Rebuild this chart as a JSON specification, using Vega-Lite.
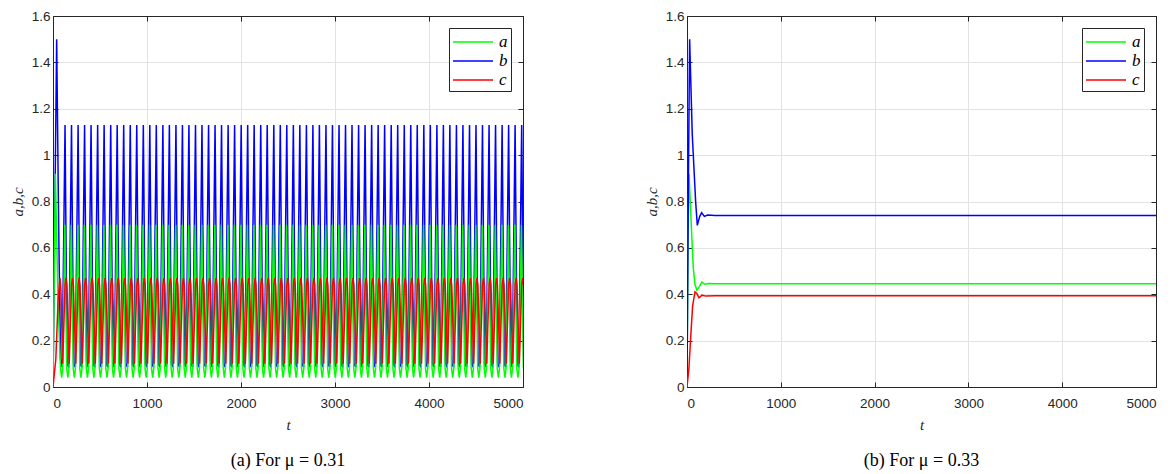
{
"$schema":"https://vega.github.io/schema/vega-lite/v6.json",
"padding":{"left":9,"top":8,"right":5,"bottom":0},
"config":{
"view":{"stroke":"#262626","strokeWidth":1},
"axis":{"domainColor":"#262626","tickColor":"#262626","tickSize":-5,"labelFont":"Liberation Sans","labelFontSize":13.5,"labelColor":"#262626","gridColor":"#e3e3e3","titleFont":"Liberation Serif","titleFontStyle":"italic","titleFontWeight":"normal","titleFontSize":15,"titleColor":"#262626"},
"legend":{"orient":"top-right","offset":12,"strokeColor":"#262626","fillColor":"white","padding":3,"symbolType":"M-1,0H3","symbolSize":400,"symbolStrokeWidth":1.5,"labelFont":"Liberation Serif","labelFontStyle":"italic","labelFontSize":17,"labelColor":"black","labelOffset":25,"rowPadding":0},
"title":{"font":"Liberation Serif","fontSize":18,"fontWeight":"normal","color":"black","orient":"bottom","anchor":"middle","offset":19}
},
"datasets":{
"L":[
{"s":"b","t":0,"v":0},{"s":"b","t":39,"v":1.5},{"s":"b","t":60,"v":0.7},{"s":"b","t":80,"v":0.12},
{"s":"a","t":0,"v":0},{"s":"a","t":25,"v":0.92},{"s":"a","t":55,"v":0.35},{"s":"a","t":80,"v":0.08},{"s":"a","t":92,"v":0.04},{"s":"a","t":104,"v":0.08},
{"s":"c","t":0,"v":0},{"s":"c","t":30,"v":0.12},{"s":"c","t":55,"v":0.38},{"s":"c","t":74,"v":0.47},{"s":"c","t":84,"v":0.42},
{"s":"b","t":98,"v":0.085},{"s":"b","t":128,"v":1.13},{"s":"b","t":150,"v":0.1},{"s":"a","t":125,"v":0.7},{"s":"a","t":146,"v":0.08},{"s":"a","t":158,"v":0.04},{"s":"a","t":170,"v":0.08},{"s":"c","t":103,"v":0.1},{"s":"c","t":128,"v":0.44},{"s":"c","t":138,"v":0.47},{"s":"c","t":148,"v":0.44},
{"s":"b","t":167,"v":0.085},{"s":"b","t":197,"v":1.13},{"s":"b","t":219,"v":0.1},{"s":"a","t":194,"v":0.7},{"s":"a","t":215,"v":0.08},{"s":"a","t":227,"v":0.04},{"s":"a","t":239,"v":0.08},{"s":"c","t":172,"v":0.1},{"s":"c","t":197,"v":0.44},{"s":"c","t":207,"v":0.47},{"s":"c","t":217,"v":0.44},
{"s":"b","t":237,"v":0.085},{"s":"b","t":267,"v":1.13},{"s":"b","t":289,"v":0.1},{"s":"a","t":264,"v":0.7},{"s":"a","t":285,"v":0.08},{"s":"a","t":297,"v":0.04},{"s":"a","t":309,"v":0.08},{"s":"c","t":242,"v":0.1},{"s":"c","t":267,"v":0.44},{"s":"c","t":277,"v":0.47},{"s":"c","t":287,"v":0.44},
{"s":"b","t":306,"v":0.085},{"s":"b","t":336,"v":1.13},{"s":"b","t":358,"v":0.1},{"s":"a","t":333,"v":0.7},{"s":"a","t":354,"v":0.08},{"s":"a","t":366,"v":0.04},{"s":"a","t":378,"v":0.08},{"s":"c","t":311,"v":0.1},{"s":"c","t":336,"v":0.44},{"s":"c","t":346,"v":0.47},{"s":"c","t":356,"v":0.44},
{"s":"b","t":375,"v":0.085},{"s":"b","t":405,"v":1.13},{"s":"b","t":427,"v":0.1},{"s":"a","t":402,"v":0.7},{"s":"a","t":423,"v":0.08},{"s":"a","t":435,"v":0.04},{"s":"a","t":447,"v":0.08},{"s":"c","t":380,"v":0.1},{"s":"c","t":405,"v":0.44},{"s":"c","t":415,"v":0.47},{"s":"c","t":425,"v":0.44},
{"s":"b","t":445,"v":0.085},{"s":"b","t":475,"v":1.13},{"s":"b","t":497,"v":0.1},{"s":"a","t":472,"v":0.7},{"s":"a","t":493,"v":0.08},{"s":"a","t":505,"v":0.04},{"s":"a","t":517,"v":0.08},{"s":"c","t":450,"v":0.1},{"s":"c","t":475,"v":0.44},{"s":"c","t":485,"v":0.47},{"s":"c","t":495,"v":0.44},
{"s":"b","t":514,"v":0.085},{"s":"b","t":544,"v":1.13},{"s":"b","t":566,"v":0.1},{"s":"a","t":541,"v":0.7},{"s":"a","t":562,"v":0.08},{"s":"a","t":574,"v":0.04},{"s":"a","t":586,"v":0.08},{"s":"c","t":519,"v":0.1},{"s":"c","t":544,"v":0.44},{"s":"c","t":554,"v":0.47},{"s":"c","t":564,"v":0.44},
{"s":"b","t":584,"v":0.085},{"s":"b","t":614,"v":1.13},{"s":"b","t":636,"v":0.1},{"s":"a","t":611,"v":0.7},{"s":"a","t":632,"v":0.08},{"s":"a","t":644,"v":0.04},{"s":"a","t":656,"v":0.08},{"s":"c","t":589,"v":0.1},{"s":"c","t":614,"v":0.44},{"s":"c","t":624,"v":0.47},{"s":"c","t":634,"v":0.44},
{"s":"b","t":653,"v":0.085},{"s":"b","t":683,"v":1.13},{"s":"b","t":705,"v":0.1},{"s":"a","t":680,"v":0.7},{"s":"a","t":701,"v":0.08},{"s":"a","t":713,"v":0.04},{"s":"a","t":725,"v":0.08},{"s":"c","t":658,"v":0.1},{"s":"c","t":683,"v":0.44},{"s":"c","t":693,"v":0.47},{"s":"c","t":703,"v":0.44},
{"s":"b","t":722,"v":0.085},{"s":"b","t":752,"v":1.13},{"s":"b","t":774,"v":0.1},{"s":"a","t":749,"v":0.7},{"s":"a","t":770,"v":0.08},{"s":"a","t":782,"v":0.04},{"s":"a","t":794,"v":0.08},{"s":"c","t":727,"v":0.1},{"s":"c","t":752,"v":0.44},{"s":"c","t":762,"v":0.47},{"s":"c","t":772,"v":0.44},
{"s":"b","t":792,"v":0.085},{"s":"b","t":822,"v":1.13},{"s":"b","t":844,"v":0.1},{"s":"a","t":819,"v":0.7},{"s":"a","t":840,"v":0.08},{"s":"a","t":852,"v":0.04},{"s":"a","t":864,"v":0.08},{"s":"c","t":797,"v":0.1},{"s":"c","t":822,"v":0.44},{"s":"c","t":832,"v":0.47},{"s":"c","t":842,"v":0.44},
{"s":"b","t":861,"v":0.085},{"s":"b","t":891,"v":1.13},{"s":"b","t":913,"v":0.1},{"s":"a","t":888,"v":0.7},{"s":"a","t":909,"v":0.08},{"s":"a","t":921,"v":0.04},{"s":"a","t":933,"v":0.08},{"s":"c","t":866,"v":0.1},{"s":"c","t":891,"v":0.44},{"s":"c","t":901,"v":0.47},{"s":"c","t":911,"v":0.44},
{"s":"b","t":931,"v":0.085},{"s":"b","t":961,"v":1.13},{"s":"b","t":983,"v":0.1},{"s":"a","t":958,"v":0.7},{"s":"a","t":979,"v":0.08},{"s":"a","t":991,"v":0.04},{"s":"a","t":1003,"v":0.08},{"s":"c","t":936,"v":0.1},{"s":"c","t":961,"v":0.44},{"s":"c","t":971,"v":0.47},{"s":"c","t":981,"v":0.44},
{"s":"b","t":1000,"v":0.085},{"s":"b","t":1030,"v":1.13},{"s":"b","t":1052,"v":0.1},{"s":"a","t":1027,"v":0.7},{"s":"a","t":1048,"v":0.08},{"s":"a","t":1060,"v":0.04},{"s":"a","t":1072,"v":0.08},{"s":"c","t":1005,"v":0.1},{"s":"c","t":1030,"v":0.44},{"s":"c","t":1040,"v":0.47},{"s":"c","t":1050,"v":0.44},
{"s":"b","t":1069,"v":0.085},{"s":"b","t":1099,"v":1.13},{"s":"b","t":1121,"v":0.1},{"s":"a","t":1096,"v":0.7},{"s":"a","t":1117,"v":0.08},{"s":"a","t":1129,"v":0.04},{"s":"a","t":1141,"v":0.08},{"s":"c","t":1074,"v":0.1},{"s":"c","t":1099,"v":0.44},{"s":"c","t":1109,"v":0.47},{"s":"c","t":1119,"v":0.44},
{"s":"b","t":1139,"v":0.085},{"s":"b","t":1169,"v":1.13},{"s":"b","t":1191,"v":0.1},{"s":"a","t":1166,"v":0.7},{"s":"a","t":1187,"v":0.08},{"s":"a","t":1199,"v":0.04},{"s":"a","t":1211,"v":0.08},{"s":"c","t":1144,"v":0.1},{"s":"c","t":1169,"v":0.44},{"s":"c","t":1179,"v":0.47},{"s":"c","t":1189,"v":0.44},
{"s":"b","t":1208,"v":0.085},{"s":"b","t":1238,"v":1.13},{"s":"b","t":1260,"v":0.1},{"s":"a","t":1235,"v":0.7},{"s":"a","t":1256,"v":0.08},{"s":"a","t":1268,"v":0.04},{"s":"a","t":1280,"v":0.08},{"s":"c","t":1213,"v":0.1},{"s":"c","t":1238,"v":0.44},{"s":"c","t":1248,"v":0.47},{"s":"c","t":1258,"v":0.44},
{"s":"b","t":1278,"v":0.085},{"s":"b","t":1308,"v":1.13},{"s":"b","t":1330,"v":0.1},{"s":"a","t":1305,"v":0.7},{"s":"a","t":1326,"v":0.08},{"s":"a","t":1338,"v":0.04},{"s":"a","t":1350,"v":0.08},{"s":"c","t":1283,"v":0.1},{"s":"c","t":1308,"v":0.44},{"s":"c","t":1318,"v":0.47},{"s":"c","t":1328,"v":0.44},
{"s":"b","t":1347,"v":0.085},{"s":"b","t":1377,"v":1.13},{"s":"b","t":1399,"v":0.1},{"s":"a","t":1374,"v":0.7},{"s":"a","t":1395,"v":0.08},{"s":"a","t":1407,"v":0.04},{"s":"a","t":1419,"v":0.08},{"s":"c","t":1352,"v":0.1},{"s":"c","t":1377,"v":0.44},{"s":"c","t":1387,"v":0.47},{"s":"c","t":1397,"v":0.44},
{"s":"b","t":1416,"v":0.085},{"s":"b","t":1446,"v":1.13},{"s":"b","t":1468,"v":0.1},{"s":"a","t":1443,"v":0.7},{"s":"a","t":1464,"v":0.08},{"s":"a","t":1476,"v":0.04},{"s":"a","t":1488,"v":0.08},{"s":"c","t":1421,"v":0.1},{"s":"c","t":1446,"v":0.44},{"s":"c","t":1456,"v":0.47},{"s":"c","t":1466,"v":0.44},
{"s":"b","t":1486,"v":0.085},{"s":"b","t":1516,"v":1.13},{"s":"b","t":1538,"v":0.1},{"s":"a","t":1513,"v":0.7},{"s":"a","t":1534,"v":0.08},{"s":"a","t":1546,"v":0.04},{"s":"a","t":1558,"v":0.08},{"s":"c","t":1491,"v":0.1},{"s":"c","t":1516,"v":0.44},{"s":"c","t":1526,"v":0.47},{"s":"c","t":1536,"v":0.44},
{"s":"b","t":1555,"v":0.085},{"s":"b","t":1585,"v":1.13},{"s":"b","t":1607,"v":0.1},{"s":"a","t":1582,"v":0.7},{"s":"a","t":1603,"v":0.08},{"s":"a","t":1615,"v":0.04},{"s":"a","t":1627,"v":0.08},{"s":"c","t":1560,"v":0.1},{"s":"c","t":1585,"v":0.44},{"s":"c","t":1595,"v":0.47},{"s":"c","t":1605,"v":0.44},
{"s":"b","t":1625,"v":0.085},{"s":"b","t":1655,"v":1.13},{"s":"b","t":1677,"v":0.1},{"s":"a","t":1652,"v":0.7},{"s":"a","t":1673,"v":0.08},{"s":"a","t":1685,"v":0.04},{"s":"a","t":1697,"v":0.08},{"s":"c","t":1630,"v":0.1},{"s":"c","t":1655,"v":0.44},{"s":"c","t":1665,"v":0.47},{"s":"c","t":1675,"v":0.44},
{"s":"b","t":1694,"v":0.085},{"s":"b","t":1724,"v":1.13},{"s":"b","t":1746,"v":0.1},{"s":"a","t":1721,"v":0.7},{"s":"a","t":1742,"v":0.08},{"s":"a","t":1754,"v":0.04},{"s":"a","t":1766,"v":0.08},{"s":"c","t":1699,"v":0.1},{"s":"c","t":1724,"v":0.44},{"s":"c","t":1734,"v":0.47},{"s":"c","t":1744,"v":0.44},
{"s":"b","t":1763,"v":0.085},{"s":"b","t":1793,"v":1.13},{"s":"b","t":1815,"v":0.1},{"s":"a","t":1790,"v":0.7},{"s":"a","t":1811,"v":0.08},{"s":"a","t":1823,"v":0.04},{"s":"a","t":1835,"v":0.08},{"s":"c","t":1768,"v":0.1},{"s":"c","t":1793,"v":0.44},{"s":"c","t":1803,"v":0.47},{"s":"c","t":1813,"v":0.44},
{"s":"b","t":1833,"v":0.085},{"s":"b","t":1863,"v":1.13},{"s":"b","t":1885,"v":0.1},{"s":"a","t":1860,"v":0.7},{"s":"a","t":1881,"v":0.08},{"s":"a","t":1893,"v":0.04},{"s":"a","t":1905,"v":0.08},{"s":"c","t":1838,"v":0.1},{"s":"c","t":1863,"v":0.44},{"s":"c","t":1873,"v":0.47},{"s":"c","t":1883,"v":0.44},
{"s":"b","t":1902,"v":0.085},{"s":"b","t":1932,"v":1.13},{"s":"b","t":1954,"v":0.1},{"s":"a","t":1929,"v":0.7},{"s":"a","t":1950,"v":0.08},{"s":"a","t":1962,"v":0.04},{"s":"a","t":1974,"v":0.08},{"s":"c","t":1907,"v":0.1},{"s":"c","t":1932,"v":0.44},{"s":"c","t":1942,"v":0.47},{"s":"c","t":1952,"v":0.44},
{"s":"b","t":1972,"v":0.085},{"s":"b","t":2002,"v":1.13},{"s":"b","t":2024,"v":0.1},{"s":"a","t":1999,"v":0.7},{"s":"a","t":2020,"v":0.08},{"s":"a","t":2032,"v":0.04},{"s":"a","t":2044,"v":0.08},{"s":"c","t":1977,"v":0.1},{"s":"c","t":2002,"v":0.44},{"s":"c","t":2012,"v":0.47},{"s":"c","t":2022,"v":0.44},
{"s":"b","t":2041,"v":0.085},{"s":"b","t":2071,"v":1.13},{"s":"b","t":2093,"v":0.1},{"s":"a","t":2068,"v":0.7},{"s":"a","t":2089,"v":0.08},{"s":"a","t":2101,"v":0.04},{"s":"a","t":2113,"v":0.08},{"s":"c","t":2046,"v":0.1},{"s":"c","t":2071,"v":0.44},{"s":"c","t":2081,"v":0.47},{"s":"c","t":2091,"v":0.44},
{"s":"b","t":2110,"v":0.085},{"s":"b","t":2140,"v":1.13},{"s":"b","t":2162,"v":0.1},{"s":"a","t":2137,"v":0.7},{"s":"a","t":2158,"v":0.08},{"s":"a","t":2170,"v":0.04},{"s":"a","t":2182,"v":0.08},{"s":"c","t":2115,"v":0.1},{"s":"c","t":2140,"v":0.44},{"s":"c","t":2150,"v":0.47},{"s":"c","t":2160,"v":0.44},
{"s":"b","t":2180,"v":0.085},{"s":"b","t":2210,"v":1.13},{"s":"b","t":2232,"v":0.1},{"s":"a","t":2207,"v":0.7},{"s":"a","t":2228,"v":0.08},{"s":"a","t":2240,"v":0.04},{"s":"a","t":2252,"v":0.08},{"s":"c","t":2185,"v":0.1},{"s":"c","t":2210,"v":0.44},{"s":"c","t":2220,"v":0.47},{"s":"c","t":2230,"v":0.44},
{"s":"b","t":2249,"v":0.085},{"s":"b","t":2279,"v":1.13},{"s":"b","t":2301,"v":0.1},{"s":"a","t":2276,"v":0.7},{"s":"a","t":2297,"v":0.08},{"s":"a","t":2309,"v":0.04},{"s":"a","t":2321,"v":0.08},{"s":"c","t":2254,"v":0.1},{"s":"c","t":2279,"v":0.44},{"s":"c","t":2289,"v":0.47},{"s":"c","t":2299,"v":0.44},
{"s":"b","t":2319,"v":0.085},{"s":"b","t":2349,"v":1.13},{"s":"b","t":2371,"v":0.1},{"s":"a","t":2346,"v":0.7},{"s":"a","t":2367,"v":0.08},{"s":"a","t":2379,"v":0.04},{"s":"a","t":2391,"v":0.08},{"s":"c","t":2324,"v":0.1},{"s":"c","t":2349,"v":0.44},{"s":"c","t":2359,"v":0.47},{"s":"c","t":2369,"v":0.44},
{"s":"b","t":2388,"v":0.085},{"s":"b","t":2418,"v":1.13},{"s":"b","t":2440,"v":0.1},{"s":"a","t":2415,"v":0.7},{"s":"a","t":2436,"v":0.08},{"s":"a","t":2448,"v":0.04},{"s":"a","t":2460,"v":0.08},{"s":"c","t":2393,"v":0.1},{"s":"c","t":2418,"v":0.44},{"s":"c","t":2428,"v":0.47},{"s":"c","t":2438,"v":0.44},
{"s":"b","t":2457,"v":0.085},{"s":"b","t":2487,"v":1.13},{"s":"b","t":2509,"v":0.1},{"s":"a","t":2484,"v":0.7},{"s":"a","t":2505,"v":0.08},{"s":"a","t":2517,"v":0.04},{"s":"a","t":2529,"v":0.08},{"s":"c","t":2462,"v":0.1},{"s":"c","t":2487,"v":0.44},{"s":"c","t":2497,"v":0.47},{"s":"c","t":2507,"v":0.44},
{"s":"b","t":2527,"v":0.085},{"s":"b","t":2557,"v":1.13},{"s":"b","t":2579,"v":0.1},{"s":"a","t":2554,"v":0.7},{"s":"a","t":2575,"v":0.08},{"s":"a","t":2587,"v":0.04},{"s":"a","t":2599,"v":0.08},{"s":"c","t":2532,"v":0.1},{"s":"c","t":2557,"v":0.44},{"s":"c","t":2567,"v":0.47},{"s":"c","t":2577,"v":0.44},
{"s":"b","t":2596,"v":0.085},{"s":"b","t":2626,"v":1.13},{"s":"b","t":2648,"v":0.1},{"s":"a","t":2623,"v":0.7},{"s":"a","t":2644,"v":0.08},{"s":"a","t":2656,"v":0.04},{"s":"a","t":2668,"v":0.08},{"s":"c","t":2601,"v":0.1},{"s":"c","t":2626,"v":0.44},{"s":"c","t":2636,"v":0.47},{"s":"c","t":2646,"v":0.44},
{"s":"b","t":2666,"v":0.085},{"s":"b","t":2696,"v":1.13},{"s":"b","t":2718,"v":0.1},{"s":"a","t":2693,"v":0.7},{"s":"a","t":2714,"v":0.08},{"s":"a","t":2726,"v":0.04},{"s":"a","t":2738,"v":0.08},{"s":"c","t":2671,"v":0.1},{"s":"c","t":2696,"v":0.44},{"s":"c","t":2706,"v":0.47},{"s":"c","t":2716,"v":0.44},
{"s":"b","t":2735,"v":0.085},{"s":"b","t":2765,"v":1.13},{"s":"b","t":2787,"v":0.1},{"s":"a","t":2762,"v":0.7},{"s":"a","t":2783,"v":0.08},{"s":"a","t":2795,"v":0.04},{"s":"a","t":2807,"v":0.08},{"s":"c","t":2740,"v":0.1},{"s":"c","t":2765,"v":0.44},{"s":"c","t":2775,"v":0.47},{"s":"c","t":2785,"v":0.44},
{"s":"b","t":2804,"v":0.085},{"s":"b","t":2834,"v":1.13},{"s":"b","t":2856,"v":0.1},{"s":"a","t":2831,"v":0.7},{"s":"a","t":2852,"v":0.08},{"s":"a","t":2864,"v":0.04},{"s":"a","t":2876,"v":0.08},{"s":"c","t":2809,"v":0.1},{"s":"c","t":2834,"v":0.44},{"s":"c","t":2844,"v":0.47},{"s":"c","t":2854,"v":0.44},
{"s":"b","t":2874,"v":0.085},{"s":"b","t":2904,"v":1.13},{"s":"b","t":2926,"v":0.1},{"s":"a","t":2901,"v":0.7},{"s":"a","t":2922,"v":0.08},{"s":"a","t":2934,"v":0.04},{"s":"a","t":2946,"v":0.08},{"s":"c","t":2879,"v":0.1},{"s":"c","t":2904,"v":0.44},{"s":"c","t":2914,"v":0.47},{"s":"c","t":2924,"v":0.44},
{"s":"b","t":2943,"v":0.085},{"s":"b","t":2973,"v":1.13},{"s":"b","t":2995,"v":0.1},{"s":"a","t":2970,"v":0.7},{"s":"a","t":2991,"v":0.08},{"s":"a","t":3003,"v":0.04},{"s":"a","t":3015,"v":0.08},{"s":"c","t":2948,"v":0.1},{"s":"c","t":2973,"v":0.44},{"s":"c","t":2983,"v":0.47},{"s":"c","t":2993,"v":0.44},
{"s":"b","t":3013,"v":0.085},{"s":"b","t":3043,"v":1.13},{"s":"b","t":3065,"v":0.1},{"s":"a","t":3040,"v":0.7},{"s":"a","t":3061,"v":0.08},{"s":"a","t":3073,"v":0.04},{"s":"a","t":3085,"v":0.08},{"s":"c","t":3018,"v":0.1},{"s":"c","t":3043,"v":0.44},{"s":"c","t":3053,"v":0.47},{"s":"c","t":3063,"v":0.44},
{"s":"b","t":3082,"v":0.085},{"s":"b","t":3112,"v":1.13},{"s":"b","t":3134,"v":0.1},{"s":"a","t":3109,"v":0.7},{"s":"a","t":3130,"v":0.08},{"s":"a","t":3142,"v":0.04},{"s":"a","t":3154,"v":0.08},{"s":"c","t":3087,"v":0.1},{"s":"c","t":3112,"v":0.44},{"s":"c","t":3122,"v":0.47},{"s":"c","t":3132,"v":0.44},
{"s":"b","t":3151,"v":0.085},{"s":"b","t":3181,"v":1.13},{"s":"b","t":3203,"v":0.1},{"s":"a","t":3178,"v":0.7},{"s":"a","t":3199,"v":0.08},{"s":"a","t":3211,"v":0.04},{"s":"a","t":3223,"v":0.08},{"s":"c","t":3156,"v":0.1},{"s":"c","t":3181,"v":0.44},{"s":"c","t":3191,"v":0.47},{"s":"c","t":3201,"v":0.44},
{"s":"b","t":3221,"v":0.085},{"s":"b","t":3251,"v":1.13},{"s":"b","t":3273,"v":0.1},{"s":"a","t":3248,"v":0.7},{"s":"a","t":3269,"v":0.08},{"s":"a","t":3281,"v":0.04},{"s":"a","t":3293,"v":0.08},{"s":"c","t":3226,"v":0.1},{"s":"c","t":3251,"v":0.44},{"s":"c","t":3261,"v":0.47},{"s":"c","t":3271,"v":0.44},
{"s":"b","t":3290,"v":0.085},{"s":"b","t":3320,"v":1.13},{"s":"b","t":3342,"v":0.1},{"s":"a","t":3317,"v":0.7},{"s":"a","t":3338,"v":0.08},{"s":"a","t":3350,"v":0.04},{"s":"a","t":3362,"v":0.08},{"s":"c","t":3295,"v":0.1},{"s":"c","t":3320,"v":0.44},{"s":"c","t":3330,"v":0.47},{"s":"c","t":3340,"v":0.44},
{"s":"b","t":3360,"v":0.085},{"s":"b","t":3390,"v":1.13},{"s":"b","t":3412,"v":0.1},{"s":"a","t":3387,"v":0.7},{"s":"a","t":3408,"v":0.08},{"s":"a","t":3420,"v":0.04},{"s":"a","t":3432,"v":0.08},{"s":"c","t":3365,"v":0.1},{"s":"c","t":3390,"v":0.44},{"s":"c","t":3400,"v":0.47},{"s":"c","t":3410,"v":0.44},
{"s":"b","t":3429,"v":0.085},{"s":"b","t":3459,"v":1.13},{"s":"b","t":3481,"v":0.1},{"s":"a","t":3456,"v":0.7},{"s":"a","t":3477,"v":0.08},{"s":"a","t":3489,"v":0.04},{"s":"a","t":3501,"v":0.08},{"s":"c","t":3434,"v":0.1},{"s":"c","t":3459,"v":0.44},{"s":"c","t":3469,"v":0.47},{"s":"c","t":3479,"v":0.44},
{"s":"b","t":3498,"v":0.085},{"s":"b","t":3528,"v":1.13},{"s":"b","t":3550,"v":0.1},{"s":"a","t":3525,"v":0.7},{"s":"a","t":3546,"v":0.08},{"s":"a","t":3558,"v":0.04},{"s":"a","t":3570,"v":0.08},{"s":"c","t":3503,"v":0.1},{"s":"c","t":3528,"v":0.44},{"s":"c","t":3538,"v":0.47},{"s":"c","t":3548,"v":0.44},
{"s":"b","t":3568,"v":0.085},{"s":"b","t":3598,"v":1.13},{"s":"b","t":3620,"v":0.1},{"s":"a","t":3595,"v":0.7},{"s":"a","t":3616,"v":0.08},{"s":"a","t":3628,"v":0.04},{"s":"a","t":3640,"v":0.08},{"s":"c","t":3573,"v":0.1},{"s":"c","t":3598,"v":0.44},{"s":"c","t":3608,"v":0.47},{"s":"c","t":3618,"v":0.44},
{"s":"b","t":3637,"v":0.085},{"s":"b","t":3667,"v":1.13},{"s":"b","t":3689,"v":0.1},{"s":"a","t":3664,"v":0.7},{"s":"a","t":3685,"v":0.08},{"s":"a","t":3697,"v":0.04},{"s":"a","t":3709,"v":0.08},{"s":"c","t":3642,"v":0.1},{"s":"c","t":3667,"v":0.44},{"s":"c","t":3677,"v":0.47},{"s":"c","t":3687,"v":0.44},
{"s":"b","t":3707,"v":0.085},{"s":"b","t":3737,"v":1.13},{"s":"b","t":3759,"v":0.1},{"s":"a","t":3734,"v":0.7},{"s":"a","t":3755,"v":0.08},{"s":"a","t":3767,"v":0.04},{"s":"a","t":3779,"v":0.08},{"s":"c","t":3712,"v":0.1},{"s":"c","t":3737,"v":0.44},{"s":"c","t":3747,"v":0.47},{"s":"c","t":3757,"v":0.44},
{"s":"b","t":3776,"v":0.085},{"s":"b","t":3806,"v":1.13},{"s":"b","t":3828,"v":0.1},{"s":"a","t":3803,"v":0.7},{"s":"a","t":3824,"v":0.08},{"s":"a","t":3836,"v":0.04},{"s":"a","t":3848,"v":0.08},{"s":"c","t":3781,"v":0.1},{"s":"c","t":3806,"v":0.44},{"s":"c","t":3816,"v":0.47},{"s":"c","t":3826,"v":0.44},
{"s":"b","t":3845,"v":0.085},{"s":"b","t":3875,"v":1.13},{"s":"b","t":3897,"v":0.1},{"s":"a","t":3872,"v":0.7},{"s":"a","t":3893,"v":0.08},{"s":"a","t":3905,"v":0.04},{"s":"a","t":3917,"v":0.08},{"s":"c","t":3850,"v":0.1},{"s":"c","t":3875,"v":0.44},{"s":"c","t":3885,"v":0.47},{"s":"c","t":3895,"v":0.44},
{"s":"b","t":3915,"v":0.085},{"s":"b","t":3945,"v":1.13},{"s":"b","t":3967,"v":0.1},{"s":"a","t":3942,"v":0.7},{"s":"a","t":3963,"v":0.08},{"s":"a","t":3975,"v":0.04},{"s":"a","t":3987,"v":0.08},{"s":"c","t":3920,"v":0.1},{"s":"c","t":3945,"v":0.44},{"s":"c","t":3955,"v":0.47},{"s":"c","t":3965,"v":0.44},
{"s":"b","t":3984,"v":0.085},{"s":"b","t":4014,"v":1.13},{"s":"b","t":4036,"v":0.1},{"s":"a","t":4011,"v":0.7},{"s":"a","t":4032,"v":0.08},{"s":"a","t":4044,"v":0.04},{"s":"a","t":4056,"v":0.08},{"s":"c","t":3989,"v":0.1},{"s":"c","t":4014,"v":0.44},{"s":"c","t":4024,"v":0.47},{"s":"c","t":4034,"v":0.44},
{"s":"b","t":4054,"v":0.085},{"s":"b","t":4084,"v":1.13},{"s":"b","t":4106,"v":0.1},{"s":"a","t":4081,"v":0.7},{"s":"a","t":4102,"v":0.08},{"s":"a","t":4114,"v":0.04},{"s":"a","t":4126,"v":0.08},{"s":"c","t":4059,"v":0.1},{"s":"c","t":4084,"v":0.44},{"s":"c","t":4094,"v":0.47},{"s":"c","t":4104,"v":0.44},
{"s":"b","t":4123,"v":0.085},{"s":"b","t":4153,"v":1.13},{"s":"b","t":4175,"v":0.1},{"s":"a","t":4150,"v":0.7},{"s":"a","t":4171,"v":0.08},{"s":"a","t":4183,"v":0.04},{"s":"a","t":4195,"v":0.08},{"s":"c","t":4128,"v":0.1},{"s":"c","t":4153,"v":0.44},{"s":"c","t":4163,"v":0.47},{"s":"c","t":4173,"v":0.44},
{"s":"b","t":4192,"v":0.085},{"s":"b","t":4222,"v":1.13},{"s":"b","t":4244,"v":0.1},{"s":"a","t":4219,"v":0.7},{"s":"a","t":4240,"v":0.08},{"s":"a","t":4252,"v":0.04},{"s":"a","t":4264,"v":0.08},{"s":"c","t":4197,"v":0.1},{"s":"c","t":4222,"v":0.44},{"s":"c","t":4232,"v":0.47},{"s":"c","t":4242,"v":0.44},
{"s":"b","t":4262,"v":0.085},{"s":"b","t":4292,"v":1.13},{"s":"b","t":4314,"v":0.1},{"s":"a","t":4289,"v":0.7},{"s":"a","t":4310,"v":0.08},{"s":"a","t":4322,"v":0.04},{"s":"a","t":4334,"v":0.08},{"s":"c","t":4267,"v":0.1},{"s":"c","t":4292,"v":0.44},{"s":"c","t":4302,"v":0.47},{"s":"c","t":4312,"v":0.44},
{"s":"b","t":4331,"v":0.085},{"s":"b","t":4361,"v":1.13},{"s":"b","t":4383,"v":0.1},{"s":"a","t":4358,"v":0.7},{"s":"a","t":4379,"v":0.08},{"s":"a","t":4391,"v":0.04},{"s":"a","t":4403,"v":0.08},{"s":"c","t":4336,"v":0.1},{"s":"c","t":4361,"v":0.44},{"s":"c","t":4371,"v":0.47},{"s":"c","t":4381,"v":0.44},
{"s":"b","t":4401,"v":0.085},{"s":"b","t":4431,"v":1.13},{"s":"b","t":4453,"v":0.1},{"s":"a","t":4428,"v":0.7},{"s":"a","t":4449,"v":0.08},{"s":"a","t":4461,"v":0.04},{"s":"a","t":4473,"v":0.08},{"s":"c","t":4406,"v":0.1},{"s":"c","t":4431,"v":0.44},{"s":"c","t":4441,"v":0.47},{"s":"c","t":4451,"v":0.44},
{"s":"b","t":4470,"v":0.085},{"s":"b","t":4500,"v":1.13},{"s":"b","t":4522,"v":0.1},{"s":"a","t":4497,"v":0.7},{"s":"a","t":4518,"v":0.08},{"s":"a","t":4530,"v":0.04},{"s":"a","t":4542,"v":0.08},{"s":"c","t":4475,"v":0.1},{"s":"c","t":4500,"v":0.44},{"s":"c","t":4510,"v":0.47},{"s":"c","t":4520,"v":0.44},
{"s":"b","t":4539,"v":0.085},{"s":"b","t":4569,"v":1.13},{"s":"b","t":4591,"v":0.1},{"s":"a","t":4566,"v":0.7},{"s":"a","t":4587,"v":0.08},{"s":"a","t":4599,"v":0.04},{"s":"a","t":4611,"v":0.08},{"s":"c","t":4544,"v":0.1},{"s":"c","t":4569,"v":0.44},{"s":"c","t":4579,"v":0.47},{"s":"c","t":4589,"v":0.44},
{"s":"b","t":4609,"v":0.085},{"s":"b","t":4639,"v":1.13},{"s":"b","t":4661,"v":0.1},{"s":"a","t":4636,"v":0.7},{"s":"a","t":4657,"v":0.08},{"s":"a","t":4669,"v":0.04},{"s":"a","t":4681,"v":0.08},{"s":"c","t":4614,"v":0.1},{"s":"c","t":4639,"v":0.44},{"s":"c","t":4649,"v":0.47},{"s":"c","t":4659,"v":0.44},
{"s":"b","t":4678,"v":0.085},{"s":"b","t":4708,"v":1.13},{"s":"b","t":4730,"v":0.1},{"s":"a","t":4705,"v":0.7},{"s":"a","t":4726,"v":0.08},{"s":"a","t":4738,"v":0.04},{"s":"a","t":4750,"v":0.08},{"s":"c","t":4683,"v":0.1},{"s":"c","t":4708,"v":0.44},{"s":"c","t":4718,"v":0.47},{"s":"c","t":4728,"v":0.44},
{"s":"b","t":4748,"v":0.085},{"s":"b","t":4778,"v":1.13},{"s":"b","t":4800,"v":0.1},{"s":"a","t":4775,"v":0.7},{"s":"a","t":4796,"v":0.08},{"s":"a","t":4808,"v":0.04},{"s":"a","t":4820,"v":0.08},{"s":"c","t":4753,"v":0.1},{"s":"c","t":4778,"v":0.44},{"s":"c","t":4788,"v":0.47},{"s":"c","t":4798,"v":0.44},
{"s":"b","t":4817,"v":0.085},{"s":"b","t":4847,"v":1.13},{"s":"b","t":4869,"v":0.1},{"s":"a","t":4844,"v":0.7},{"s":"a","t":4865,"v":0.08},{"s":"a","t":4877,"v":0.04},{"s":"a","t":4889,"v":0.08},{"s":"c","t":4822,"v":0.1},{"s":"c","t":4847,"v":0.44},{"s":"c","t":4857,"v":0.47},{"s":"c","t":4867,"v":0.44},
{"s":"b","t":4886,"v":0.085},{"s":"b","t":4916,"v":1.13},{"s":"b","t":4938,"v":0.1},{"s":"a","t":4913,"v":0.7},{"s":"a","t":4934,"v":0.08},{"s":"a","t":4946,"v":0.04},{"s":"a","t":4958,"v":0.08},{"s":"c","t":4891,"v":0.1},{"s":"c","t":4916,"v":0.44},{"s":"c","t":4926,"v":0.47},{"s":"c","t":4936,"v":0.44},
{"s":"b","t":4956,"v":0.085},{"s":"b","t":4986,"v":1.13},{"s":"b","t":5008,"v":0.1},{"s":"a","t":4983,"v":0.7},{"s":"a","t":5004,"v":0.08},{"s":"c","t":4961,"v":0.1},{"s":"c","t":4986,"v":0.44},{"s":"c","t":4996,"v":0.47},{"s":"c","t":5006,"v":0.44}
],
"R":[
{"s":"a","t":0,"v":0},{"s":"a","t":10,"v":0.6},{"s":"a","t":21,"v":0.92},{"s":"a","t":35,"v":0.8},{"s":"a","t":50,"v":0.658},{"s":"a","t":67,"v":0.514},{"s":"a","t":85,"v":0.443},{"s":"a","t":106,"v":0.417},{"s":"a","t":130,"v":0.432},{"s":"a","t":158,"v":0.452},{"s":"a","t":190,"v":0.443},{"s":"a","t":230,"v":0.446},{"s":"a","t":300,"v":0.4455},{"s":"a","t":5000,"v":0.4455},
{"s":"b","t":0,"v":0},{"s":"b","t":15,"v":0.9},{"s":"b","t":28,"v":1.5},{"s":"b","t":56,"v":1.09},{"s":"b","t":92,"v":0.8},{"s":"b","t":110,"v":0.697},{"s":"b","t":135,"v":0.735},{"s":"b","t":156,"v":0.752},{"s":"b","t":185,"v":0.736},{"s":"b","t":220,"v":0.742},{"s":"b","t":300,"v":0.74},{"s":"b","t":5000,"v":0.74},
{"s":"c","t":0,"v":0},{"s":"c","t":21,"v":0.083},{"s":"c","t":40,"v":0.22},{"s":"c","t":60,"v":0.35},{"s":"c","t":85,"v":0.41},{"s":"c","t":105,"v":0.403},{"s":"c","t":128,"v":0.385},{"s":"c","t":160,"v":0.396},{"s":"c","t":200,"v":0.392},{"s":"c","t":300,"v":0.393},{"s":"c","t":5000,"v":0.393}
]
},
"spacing":119,
"resolve":{"scale":{"color":"independent"},"legend":{"color":"independent"}},
"hconcat":[
{"width":470,"height":371,"data":{"name":"L"},
"title":{"text":"(a) For μ = 0.31"},
"layer":[
{"mark":{"type":"line","strokeWidth":1.5,"clip":true},
"encoding":{
"x":{"field":"t","type":"quantitative","scale":{"domain":[0,5000],"nice":false},"axis":{"title":"t","values":[0,1000,2000,3000,4000,5000],"format":"d","labelPadding":14,"titlePadding":8}},
"y":{"field":"v","type":"quantitative","scale":{"domain":[0,1.6],"nice":false},"axis":{"title":"a,b,c","values":[0,0.2,0.4,0.6,0.8,1,1.2,1.4,1.6],"format":"~g","labelPadding":8,"titlePadding":6}},
"color":{"field":"s","type":"nominal","scale":{"domain":["a","b","c"],"range":["#00ff00","#0000ff","#ff0000"]},"legend":{"title":null}}}},
{"mark":{"type":"line","opacity":0,"clip":true},
"encoding":{
"x":{"field":"t","type":"quantitative","scale":{"domain":[0,5000],"nice":false},"axis":{"orient":"top","title":null,"labels":false,"grid":false,"values":[0,1000,2000,3000,4000,5000]}},
"y":{"field":"v","type":"quantitative","scale":{"domain":[0,1.6],"nice":false},"axis":{"orient":"right","title":null,"labels":false,"grid":false,"values":[0,0.2,0.4,0.6,0.8,1,1.2,1.4,1.6]}}}}
],
"resolve":{"axis":{"x":"independent","y":"independent"}}
},
{"width":469,"height":371,"data":{"name":"R"},
"title":{"text":"(b) For μ = 0.33"},
"layer":[
{"mark":{"type":"line","strokeWidth":1.5,"clip":true},
"encoding":{
"x":{"field":"t","type":"quantitative","scale":{"domain":[0,5000],"nice":false},"axis":{"title":"t","values":[0,1000,2000,3000,4000,5000],"format":"d","labelPadding":14,"titlePadding":8}},
"y":{"field":"v","type":"quantitative","scale":{"domain":[0,1.6],"nice":false},"axis":{"title":"a,b,c","values":[0,0.2,0.4,0.6,0.8,1,1.2,1.4,1.6],"format":"~g","labelPadding":8,"titlePadding":6}},
"color":{"field":"s","type":"nominal","scale":{"domain":["a","b","c"],"range":["#00ff00","#0000ff","#ff0000"]},"legend":{"title":null}}}},
{"mark":{"type":"line","opacity":0,"clip":true},
"encoding":{
"x":{"field":"t","type":"quantitative","scale":{"domain":[0,5000],"nice":false},"axis":{"orient":"top","title":null,"labels":false,"grid":false,"values":[0,1000,2000,3000,4000,5000]}},
"y":{"field":"v","type":"quantitative","scale":{"domain":[0,1.6],"nice":false},"axis":{"orient":"right","title":null,"labels":false,"grid":false,"values":[0,0.2,0.4,0.6,0.8,1,1.2,1.4,1.6]}}}}
],
"resolve":{"axis":{"x":"independent","y":"independent"}}
}
]
}
